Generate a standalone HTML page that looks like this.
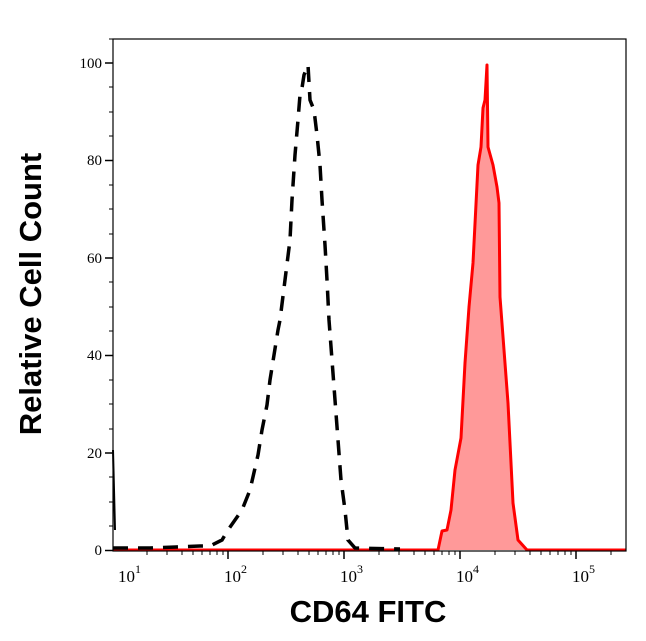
<!DOCTYPE html>
<html><head><meta charset="utf-8"><style>
html,body{margin:0;padding:0;background:#fff;}
svg{display:block;}
</style></head><body>
<svg width="646" height="641" viewBox="0 0 646 641" xmlns="http://www.w3.org/2000/svg">
<rect width="646" height="641" fill="#fff"/>
<path d="M113,550 L438,550 L442,531 L447,530 L451,510 L455,470 L461,438 L465,363 L469,307 L473,263 L478,165 L481,147 L483,108 L485,100 L487,65 L488,147 L493,165 L497,187 L499,203 L500,297 L508,403 L513,503 L518,540 L527,550 L626,550" fill="#ff9999" stroke="#ff0000" stroke-width="3" stroke-linejoin="round"/>
<path d="M113,548 L150,548 L176,547 L200,546 L210,546 L222,540 L228,530 L235,520 L242,510 L250,490 L258,455 L262,430 L267,405 L270,380 L278,330 L280,320 L285,280 L290,240 L292,200 L295,155 L298,120 L300,95 L302,88 L304,75 L308,65 L310,100 L314,110 L317,135 L320,165 L322,200 L325,245 L327,280 L329,320 L332,360 L335,400 L338,440 L341,480 L345,510 L348,540 L355,548 L400,549" fill="none" stroke="#000" stroke-width="3.5" stroke-dasharray="15,10"/>
<path d="M113,450 L115,530" stroke="#000" stroke-width="2"/>
<rect x="113" y="39" width="513" height="512" fill="none" stroke="#000" stroke-width="1.2"/>
<g stroke="#000" stroke-width="1.5">
<line x1="105" y1="550.5" x2="113" y2="550.5"/>
<line x1="105" y1="453" x2="113" y2="453"/>
<line x1="105" y1="355.5" x2="113" y2="355.5"/>
<line x1="105" y1="258" x2="113" y2="258"/>
<line x1="105" y1="160.5" x2="113" y2="160.5"/>
<line x1="105" y1="63" x2="113" y2="63"/>
</g>
<g stroke="#000" stroke-width="1">
<line x1="109" y1="526" x2="113" y2="526"/><line x1="109" y1="502" x2="113" y2="502"/><line x1="109" y1="477" x2="113" y2="477"/>
<line x1="109" y1="429" x2="113" y2="429"/><line x1="109" y1="404" x2="113" y2="404"/><line x1="109" y1="380" x2="113" y2="380"/>
<line x1="109" y1="331" x2="113" y2="331"/><line x1="109" y1="307" x2="113" y2="307"/><line x1="109" y1="282" x2="113" y2="282"/>
<line x1="109" y1="234" x2="113" y2="234"/><line x1="109" y1="209" x2="113" y2="209"/><line x1="109" y1="185" x2="113" y2="185"/>
<line x1="109" y1="136" x2="113" y2="136"/><line x1="109" y1="112" x2="113" y2="112"/><line x1="109" y1="87" x2="113" y2="87"/>
<line x1="109" y1="39" x2="113" y2="39"/>
</g>
<g font-family="Liberation Serif, serif" font-size="15" text-anchor="end" fill="#000">
<text x="102" y="555">0</text><text x="102" y="458">20</text><text x="102" y="360">40</text>
<text x="102" y="263">60</text><text x="102" y="165">80</text><text x="102" y="68">100</text>
</g>
<g stroke="#000" stroke-width="1.5">
<line x1="228" y1="551" x2="228" y2="559"/><line x1="344" y1="551" x2="344" y2="559"/>
<line x1="460" y1="551" x2="460" y2="559"/><line x1="576" y1="551" x2="576" y2="559"/>
</g>
<g font-family="Liberation Serif, serif" font-size="17" fill="#000">
<text x="118" y="582">10<tspan font-size="12" dy="-9">1</tspan></text>
<text x="224" y="582">10<tspan font-size="12" dy="-9">2</tspan></text>
<text x="340" y="582">10<tspan font-size="12" dy="-9">3</tspan></text>
<text x="456" y="582">10<tspan font-size="12" dy="-9">4</tspan></text>
<text x="572" y="582">10<tspan font-size="12" dy="-9">5</tspan></text>
</g>
<text x="368" y="622" font-family="Liberation Sans, sans-serif" font-weight="bold" font-size="31" text-anchor="middle">CD64 FITC</text>
<text transform="translate(41,294) rotate(-90)" font-family="Liberation Sans, sans-serif" font-weight="bold" font-size="31" text-anchor="middle">Relative Cell Count</text>
<g stroke="#000" stroke-width="1">
<line x1="147" y1="551" x2="147" y2="555"/><line x1="167" y1="551" x2="167" y2="555"/><line x1="182" y1="551" x2="182" y2="555"/><line x1="193" y1="551" x2="193" y2="555"/><line x1="202" y1="551" x2="202" y2="555"/><line x1="210" y1="551" x2="210" y2="555"/><line x1="217" y1="551" x2="217" y2="555"/><line x1="223" y1="551" x2="223" y2="555"/>
<line x1="263" y1="551" x2="263" y2="555"/><line x1="283" y1="551" x2="283" y2="555"/><line x1="298" y1="551" x2="298" y2="555"/><line x1="309" y1="551" x2="309" y2="555"/><line x1="318" y1="551" x2="318" y2="555"/><line x1="326" y1="551" x2="326" y2="555"/><line x1="333" y1="551" x2="333" y2="555"/><line x1="339" y1="551" x2="339" y2="555"/>
<line x1="379" y1="551" x2="379" y2="555"/><line x1="399" y1="551" x2="399" y2="555"/><line x1="414" y1="551" x2="414" y2="555"/><line x1="425" y1="551" x2="425" y2="555"/><line x1="434" y1="551" x2="434" y2="555"/><line x1="442" y1="551" x2="442" y2="555"/><line x1="449" y1="551" x2="449" y2="555"/><line x1="455" y1="551" x2="455" y2="555"/>
<line x1="495" y1="551" x2="495" y2="555"/><line x1="515" y1="551" x2="515" y2="555"/><line x1="530" y1="551" x2="530" y2="555"/><line x1="541" y1="551" x2="541" y2="555"/><line x1="550" y1="551" x2="550" y2="555"/><line x1="558" y1="551" x2="558" y2="555"/><line x1="565" y1="551" x2="565" y2="555"/><line x1="571" y1="551" x2="571" y2="555"/>
<line x1="611" y1="551" x2="611" y2="555"/>
</g>
</svg>
</body></html>
